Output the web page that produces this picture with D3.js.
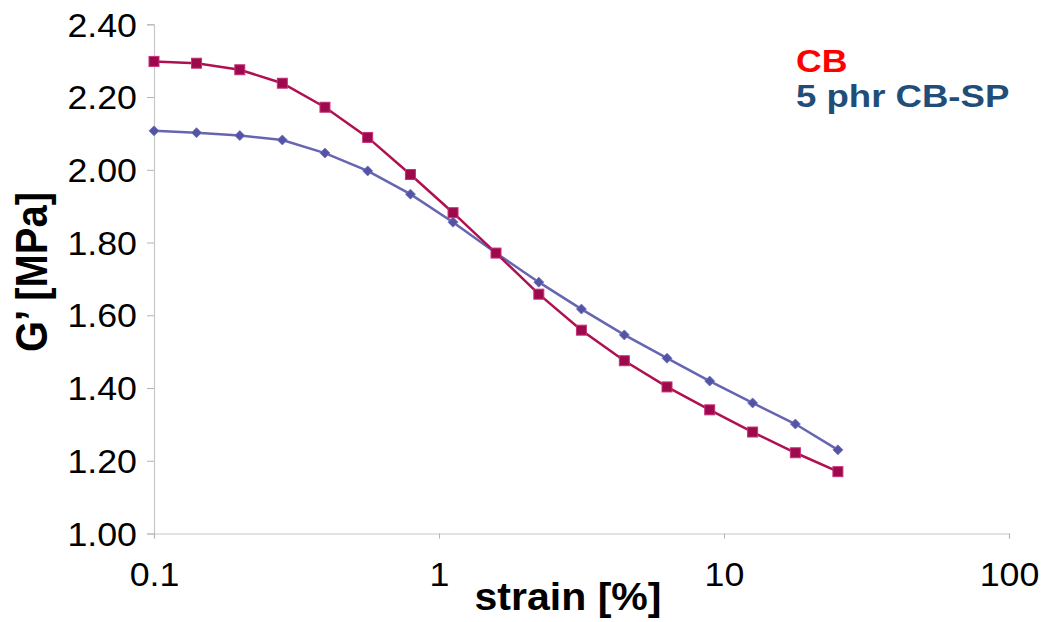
<!DOCTYPE html>
<html>
<head>
<meta charset="utf-8">
<script src="https://cdn.jsdelivr.net/npm/d3@7"></script>
<style>
  body { margin: 0; background: #fff; }
  svg { display: block; font-family: "Liberation Sans", Arial, sans-serif; }
</style>
</head>
<body>
<svg width="1043" height="622"></svg>
<script>
// strain [%] (log spaced)
const strain = [0.1, 0.141, 0.2, 0.282, 0.398, 0.562, 0.794, 1.12, 1.585, 2.24, 3.16, 4.47, 6.31, 8.91, 12.6, 17.8, 25.1];
// G' [MPa]
const cbValues = [2.298, 2.293, 2.275, 2.238, 2.172, 2.089, 1.987, 1.882, 1.771, 1.658, 1.559, 1.475, 1.403, 1.340, 1.279, 1.222, 1.170];
const cbspValues = [2.107, 2.102, 2.094, 2.082, 2.046, 1.997, 1.933, 1.856, 1.771, 1.691, 1.617, 1.546, 1.482, 1.419, 1.359, 1.301, 1.230];
const yTicks = [1.0, 1.2, 1.4, 1.6, 1.8, 2.0, 2.2, 2.4];
const xTicks = [0.1, 1, 10, 100];
const xTickLabels = ["0.1", "1", "10", "100"];

const svg = d3.select("svg");

const x = d3.scaleLog()
  .domain([0.1, 100])
  .range([154, 1009]);

const y = d3.scaleLinear()
  .domain([1, 2.4])
  .range([533.5, 24.3]);

// y axis
const yAxis = svg.append("g")
  .attr("transform", `translate(${x(0.1)},0)`)
  .call(d3.axisLeft(y).tickValues(yTicks).tickSize(7).tickFormat(d3.format(".2f")));

yAxis.select(".domain").attr("stroke", "#c8c8c8").attr("stroke-width", 1.2);
yAxis.selectAll(".tick line").attr("stroke", "#b4b4b4");
yAxis.selectAll(".tick text")
  .attr("x", 0)
  .attr("dy", "0.36em")
  .attr("transform", "translate(-17,0) scale(1.1,1)")
  .attr("fill", "#000")
  .style("font-size", "32.5px");

// x axis
const xAxis = svg.append("g")
  .attr("transform", `translate(0,${y(1)})`)
  .call(d3.axisBottom(x).tickValues(xTicks).tickSize(5).tickFormat((d, i) => xTickLabels[i]));

xAxis.select(".domain").attr("stroke", "#c8c8c8").attr("stroke-width", 1.2);
xAxis.selectAll(".tick line").attr("stroke", "#b4b4b4");
xAxis.selectAll(".tick text")
  .attr("y", 0)
  .attr("dy", 0)
  .attr("transform", "translate(0,52) scale(1.1,1)")
  .attr("fill", "#000")
  .style("font-size", "32.5px");

// axis titles
svg.append("text")
  .attr("transform", "translate(568,610) scale(1.08,1)")
  .attr("text-anchor", "middle")
  .style("font-size", "38px")
  .style("font-weight", "bold")
  .text("strain [%]");

svg.append("text")
  .attr("transform", "translate(47,272) rotate(-90) scale(1,1.1)")
  .attr("text-anchor", "middle")
  .style("font-size", "40px")
  .style("font-weight", "bold")
  .text("G’ [MPa]");

// lines
const cbData = strain.map((s, i) => ({ s: s, v: cbValues[i] }));
const spData = strain.map((s, i) => ({ s: s, v: cbspValues[i] }));

const line = d3.line()
  .x(d => x(d.s))
  .y(d => y(d.v));

svg.append("path")
  .datum(spData)
  .attr("fill", "none")
  .attr("stroke", "#6565b2")
  .attr("stroke-width", 2.5)
  .attr("d", line);

svg.append("path")
  .datum(cbData)
  .attr("fill", "none")
  .attr("stroke", "#b0104f")
  .attr("stroke-width", 2.5)
  .attr("d", line);

// markers
svg.selectAll(".diamond")
  .data(spData)
  .enter().append("path")
  .attr("class", "diamond")
  .attr("transform", d => `translate(${x(d.s)},${y(d.v)})`)
  .attr("d", "M0,-5L5,0L0,5L-5,0Z")
  .attr("fill", "#5454a4")
  .attr("stroke", "#7070c0")
  .attr("stroke-width", 0.8);

svg.selectAll(".square")
  .data(cbData)
  .enter().append("rect")
  .attr("class", "square")
  .attr("x", d => x(d.s) - 5)
  .attr("y", d => y(d.v) - 5)
  .attr("width", 10)
  .attr("height", 10)
  .attr("fill", "#9c0a4c")
  .attr("stroke", "#c8307a")
  .attr("stroke-width", 1);

// legend
svg.append("text")
  .attr("transform", "translate(796,72) scale(1.15,1)")
  .style("font-size", "31px")
  .style("font-weight", "bold")
  .attr("fill", "#ff0000")
  .text("CB");

svg.append("text")
  .attr("transform", "translate(796,107) scale(1.18,1)")
  .style("font-size", "31px")
  .style("font-weight", "bold")
  .attr("fill", "#1f4e79")
  .text("5 phr CB-SP");
</script>
</body>
</html>
